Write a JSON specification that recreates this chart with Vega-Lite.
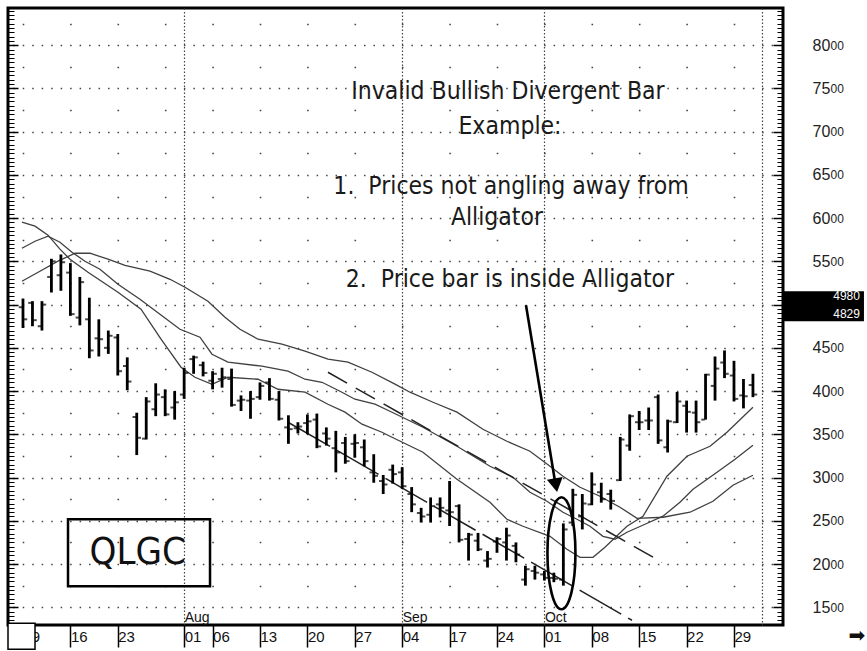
{
  "$schema": "https://vega.github.io/schema/vega-lite/v6.json",
  "width": 775,
  "height": 617,
  "autosize": "none",
  "padding": {"left": 8, "top": 8, "right": 84, "bottom": 26},
  "background": "white",
  "config": {"view": {"stroke": "black", "strokeWidth": 3}, "font": "Liberation Sans"},
  "resolve": {"axis": {"x": "independent", "y": "independent"}},
  "datasets": {
    "bars": [
      {"t":0,"o":49.7,"h":50.7,"l":47.3,"c":48.3},
      {"t":1,"o":50.2,"h":50.4,"l":47.5,"c":48.2},
      {"t":2,"o":47.5,"h":50.4,"l":47.0,"c":50.0},
      {"t":3,"o":53.2,"h":55.3,"l":51.4,"c":55.0},
      {"t":4,"o":53.4,"h":55.8,"l":51.6,"c":54.9},
      {"t":5,"o":53.7,"h":54.8,"l":48.7,"c":48.9},
      {"t":6,"o":48.5,"h":53.2,"l":47.6,"c":52.6},
      {"t":7,"o":48.3,"h":50.8,"l":43.8,"c":44.7},
      {"t":8,"o":46.1,"h":48.3,"l":44.0,"c":46.0},
      {"t":9,"o":45.0,"h":47.0,"l":44.3,"c":46.4},
      {"t":10,"o":46.2,"h":46.6,"l":41.8,"c":42.3},
      {"t":11,"o":42.9,"h":43.9,"l":40.1,"c":41.1},
      {"t":12,"o":37.0,"h":37.5,"l":32.6,"c":34.6},
      {"t":13,"o":34.5,"h":39.3,"l":34.4,"c":38.8},
      {"t":14,"o":37.9,"h":40.9,"l":37.1,"c":39.6},
      {"t":15,"o":39.3,"h":40.2,"l":37.1,"c":37.3},
      {"t":16,"o":38.1,"h":40.0,"l":36.7,"c":38.7},
      {"t":17,"o":39.6,"h":42.7,"l":39.1,"c":42.1},
      {"t":18,"o":43.7,"h":44.1,"l":42.0,"c":43.9},
      {"t":19,"o":43.0,"h":43.4,"l":41.7,"c":42.1},
      {"t":20,"o":41.2,"h":42.3,"l":40.2,"c":42.0},
      {"t":21,"o":41.4,"h":42.7,"l":40.4,"c":41.6},
      {"t":22,"o":41.4,"h":42.6,"l":38.2,"c":38.4},
      {"t":23,"o":38.9,"h":39.5,"l":37.7,"c":39.0},
      {"t":24,"o":38.9,"h":40.0,"l":36.8,"c":39.1},
      {"t":25,"o":39.3,"h":41.0,"l":39.0,"c":40.6},
      {"t":26,"o":41.0,"h":41.5,"l":38.9,"c":39.1},
      {"t":27,"o":39.0,"h":40.0,"l":36.6,"c":36.8},
      {"t":28,"o":35.8,"h":37.2,"l":33.9,"c":35.6},
      {"t":29,"o":35.7,"h":36.4,"l":35.1,"c":35.9},
      {"t":30,"o":36.3,"h":37.3,"l":35.0,"c":36.5},
      {"t":31,"o":36.7,"h":37.4,"l":33.4,"c":33.6},
      {"t":32,"o":35.1,"h":35.8,"l":33.7,"c":34.5},
      {"t":33,"o":33.4,"h":35.4,"l":30.6,"c":32.9},
      {"t":34,"o":34.0,"h":34.7,"l":31.6,"c":31.9},
      {"t":35,"o":33.9,"h":35.0,"l":32.3,"c":34.0},
      {"t":36,"o":33.5,"h":34.4,"l":31.3,"c":31.9},
      {"t":37,"o":30.6,"h":32.7,"l":29.4,"c":30.2},
      {"t":38,"o":29.6,"h":30.3,"l":28.1,"c":29.2},
      {"t":39,"o":30.9,"h":31.5,"l":29.3,"c":30.4},
      {"t":40,"o":30.6,"h":31.2,"l":28.7,"c":29.0},
      {"t":41,"o":28.1,"h":28.9,"l":26.0,"c":26.9},
      {"t":42,"o":25.9,"h":26.5,"l":24.8,"c":25.5},
      {"t":43,"o":25.7,"h":27.7,"l":24.8,"c":26.7},
      {"t":44,"o":26.9,"h":27.7,"l":25.4,"c":26.5},
      {"t":45,"o":26.2,"h":29.6,"l":24.4,"c":26.0},
      {"t":46,"o":26.7,"h":26.9,"l":22.5,"c":22.8},
      {"t":47,"o":22.9,"h":23.6,"l":20.4,"c":23.4},
      {"t":48,"o":22.7,"h":23.6,"l":21.5,"c":21.7},
      {"t":49,"o":20.4,"h":21.5,"l":19.6,"c":20.6},
      {"t":50,"o":22.6,"h":23.1,"l":21.3,"c":22.9},
      {"t":51,"o":22.5,"h":24.2,"l":20.4,"c":23.3},
      {"t":52,"o":22.1,"h":22.5,"l":20.2,"c":21.1},
      {"t":53,"o":18.2,"h":19.8,"l":17.5,"c":19.4},
      {"t":54,"o":19.2,"h":19.8,"l":18.2,"c":19.0},
      {"t":55,"o":18.8,"h":19.2,"l":18.1,"c":18.4},
      {"t":56,"o":18.4,"h":19.0,"l":17.9,"c":18.3},
      {"t":57,"o":18.2,"h":24.7,"l":17.5,"c":24.0},
      {"t":58,"o":24.8,"h":28.7,"l":24.4,"c":28.0},
      {"t":59,"o":25.5,"h":28.1,"l":24.0,"c":27.0},
      {"t":60,"o":26.9,"h":30.6,"l":26.8,"c":29.2},
      {"t":61,"o":28.3,"h":29.4,"l":27.1,"c":27.5},
      {"t":62,"o":28.1,"h":28.6,"l":26.3,"c":27.3},
      {"t":63,"o":29.7,"h":34.7,"l":29.6,"c":34.4},
      {"t":64,"o":33.7,"h":37.3,"l":33.1,"c":37.1},
      {"t":65,"o":36.4,"h":37.7,"l":35.5,"c":36.4},
      {"t":66,"o":36.6,"h":38.1,"l":35.5,"c":36.6},
      {"t":67,"o":39.3,"h":39.6,"l":33.9,"c":34.3},
      {"t":68,"o":33.5,"h":36.7,"l":32.9,"c":36.5},
      {"t":69,"o":36.4,"h":39.9,"l":36.3,"c":38.8},
      {"t":70,"o":38.3,"h":38.9,"l":35.2,"c":37.6},
      {"t":71,"o":37.5,"h":38.9,"l":35.2,"c":36.4},
      {"t":72,"o":36.7,"h":42.0,"l":36.7,"c":41.9},
      {"t":73,"o":40.6,"h":44.0,"l":38.9,"c":42.6},
      {"t":74,"o":43.3,"h":44.7,"l":41.5,"c":42.0},
      {"t":75,"o":41.8,"h":43.5,"l":38.8,"c":39.1},
      {"t":76,"o":39.5,"h":41.4,"l":38.0,"c":39.4},
      {"t":77,"o":40.7,"h":42.0,"l":39.3,"c":39.6}
    ],
    "gator": [
      {"line":"jaw","t":-0.11,"p":52.70},{"line":"jaw","t":1.79,"p":53.86},{"line":"jaw","t":3.69,"p":55.02},{"line":"jaw","t":5.49,"p":55.94},{"line":"jaw","t":7.07,"p":55.94},{"line":"jaw","t":8.97,"p":55.25},{"line":"jaw","t":10.76,"p":54.55},{"line":"jaw","t":13.40,"p":53.86},{"line":"jaw","t":15.51,"p":52.93},{"line":"jaw","t":17.09,"p":52.01},{"line":"jaw","t":19.51,"p":50.39},{"line":"jaw","t":21.31,"p":48.54},{"line":"jaw","t":22.89,"p":47.15},{"line":"jaw","t":24.79,"p":46.00},{"line":"jaw","t":27.32,"p":45.42},{"line":"jaw","t":29.75,"p":44.61},{"line":"jaw","t":32.17,"p":43.69},{"line":"jaw","t":34.28,"p":43.34},{"line":"jaw","t":36.81,"p":42.18},{"line":"jaw","t":39.24,"p":40.80},{"line":"jaw","t":40.82,"p":39.87},{"line":"jaw","t":43.25,"p":38.71},{"line":"jaw","t":45.78,"p":37.56},{"line":"jaw","t":48.52,"p":35.59},{"line":"jaw","t":51.05,"p":34.20},{"line":"jaw","t":53.48,"p":33.04},{"line":"jaw","t":55.59,"p":31.31},{"line":"jaw","t":56.96,"p":30.15},{"line":"jaw","t":58.76,"p":28.88},{"line":"jaw","t":60.86,"p":27.84},{"line":"jaw","t":62.97,"p":26.57},{"line":"jaw","t":64.77,"p":25.29},{"line":"jaw","t":67.51,"p":25.41},{"line":"jaw","t":70.36,"p":25.99},{"line":"jaw","t":72.78,"p":27.26},{"line":"jaw","t":74.89,"p":29.11},{"line":"jaw","t":77.00,"p":30.27},
      {"line":"teeth","t":-0.11,"p":56.52},{"line":"teeth","t":1.27,"p":57.33},{"line":"teeth","t":2.64,"p":57.91},{"line":"teeth","t":3.90,"p":57.22},{"line":"teeth","t":5.17,"p":56.06},{"line":"teeth","t":6.54,"p":55.02},{"line":"teeth","t":8.12,"p":54.09},{"line":"teeth","t":10.02,"p":52.36},{"line":"teeth","t":12.34,"p":50.62},{"line":"teeth","t":14.45,"p":48.89},{"line":"teeth","t":16.56,"p":47.15},{"line":"teeth","t":18.67,"p":46.23},{"line":"teeth","t":19.94,"p":44.26},{"line":"teeth","t":21.62,"p":43.34},{"line":"teeth","t":25.21,"p":42.88},{"line":"teeth","t":27.95,"p":42.30},{"line":"teeth","t":29.75,"p":41.37},{"line":"teeth","t":31.54,"p":41.02},{"line":"teeth","t":33.44,"p":39.98},{"line":"teeth","t":35.02,"p":39.06},{"line":"teeth","t":37.13,"p":38.48},{"line":"teeth","t":38.71,"p":37.67},{"line":"teeth","t":42.19,"p":35.82},{"line":"teeth","t":45.78,"p":33.62},{"line":"teeth","t":49.26,"p":31.31},{"line":"teeth","t":51.69,"p":30.04},{"line":"teeth","t":53.48,"p":28.30},{"line":"teeth","t":55.27,"p":27.26},{"line":"teeth","t":56.96,"p":25.99},{"line":"teeth","t":58.44,"p":25.18},{"line":"teeth","t":59.81,"p":24.37},{"line":"teeth","t":61.18,"p":23.21},{"line":"teeth","t":62.45,"p":22.87},{"line":"teeth","t":63.71,"p":23.68},{"line":"teeth","t":65.61,"p":24.60},{"line":"teeth","t":67.51,"p":25.53},{"line":"teeth","t":69.30,"p":27.14},{"line":"teeth","t":70.68,"p":28.65},{"line":"teeth","t":73.21,"p":30.61},{"line":"teeth","t":75.11,"p":32.12},{"line":"teeth","t":77.00,"p":33.74},
      {"line":"lips","t":-0.11,"p":59.53},{"line":"lips","t":1.27,"p":59.07},{"line":"lips","t":2.64,"p":58.03},{"line":"lips","t":3.90,"p":56.41},{"line":"lips","t":4.96,"p":55.25},{"line":"lips","t":6.86,"p":53.75},{"line":"lips","t":10.02,"p":51.43},{"line":"lips","t":12.45,"p":49.47},{"line":"lips","t":14.56,"p":46.00},{"line":"lips","t":16.67,"p":42.76},{"line":"lips","t":18.14,"p":41.60},{"line":"lips","t":19.94,"p":40.79},{"line":"lips","t":21.62,"p":41.60},{"line":"lips","t":24.79,"p":41.37},{"line":"lips","t":26.90,"p":40.21},{"line":"lips","t":29.75,"p":39.87},{"line":"lips","t":32.17,"p":38.48},{"line":"lips","t":33.97,"p":37.56},{"line":"lips","t":35.76,"p":36.17},{"line":"lips","t":37.87,"p":35.24},{"line":"lips","t":38.71,"p":34.78},{"line":"lips","t":42.19,"p":32.93},{"line":"lips","t":45.78,"p":29.81},{"line":"lips","t":49.26,"p":27.14},{"line":"lips","t":51.05,"p":25.18},{"line":"lips","t":52.74,"p":24.37},{"line":"lips","t":55.59,"p":23.21},{"line":"lips","t":57.38,"p":21.71},{"line":"lips","t":58.76,"p":20.78},{"line":"lips","t":60.13,"p":20.78},{"line":"lips","t":61.39,"p":21.94},{"line":"lips","t":63.71,"p":24.37},{"line":"lips","t":65.40,"p":25.53},{"line":"lips","t":67.93,"p":30.15},{"line":"lips","t":70.04,"p":32.47},{"line":"lips","t":72.47,"p":33.62},{"line":"lips","t":74.26,"p":35.24},{"line":"lips","t":77.00,"p":38.13}
    ],
    "trend": [
      {"name":"low","t":28.0,"p":36.37},{"name":"low","t":64.24,"p":13.5},
      {"name":"up","t":32.17,"p":42.18},{"name":"up","t":67.4,"p":20.2}
    ],
    "notes": [
      {"t":51.16,"p":74.57,"text":"Invalid Bullish Divergent Bar"},
      {"t":51.37,"p":70.52,"text":"Example:"},
      {"t":51.48,"p":63.58,"text":"1.\u00a0\u00a0Prices not angling away from"},
      {"t":50.0,"p":59.99,"text":"Alligator"},
      {"t":51.37,"p":52.82,"text":"2.\u00a0\u00a0Price bar is inside Alligator"}
    ],
    "qlgc": [{"t":4.75,"t2":19.73,"p":25.18,"p2":17.43,"tc":12.1,"pc":21.3,"label":"QLGC"}],
    "oval": [{"t":56.8,"p":21.25}],
    "arrow": [{"t":53.06,"p":49.93,"t2":56.12,"p2":29.57,"th":56.22,"ph":29.11}],
    "pricebox": [{"t":80.17,"t2":88.71,"p":51.55,"p2":48.08}],
    "pricetext": [{"t":88.29,"p":50.95,"label":"4980"},{"t":88.29,"p":48.95,"label":"4829"}],
    "corner": [{"t":-1.58,"t2":1.27,"p":13.15,"p2":10.14}],
    "nav": [{"t":87.97,"p":11.65,"label":"➡"}]
  },
  "layer": [
    {
      "data": {"name": "gator"},
      "mark": {"type": "line", "color": "#404040", "strokeWidth": 1.3},
      "encoding": {
        "x": {"field": "t", "type": "quantitative", "scale": {"domain": [-1.58, 80.17], "nice": false, "zero": false}, "axis": null},
        "y": {"field": "p", "type": "quantitative", "scale": {"domain": [12.95, 84.3], "nice": false, "zero": false},
          "axis": {"orient": "right", "values": [15,20,25,30,35,40,45,55,60,65,70,75,80], "labelExpr": "'00'", "ticks": false, "tickSize": 0, "domain": false, "grid": false, "title": null, "labelPadding": 47, "labelAlign": "left", "labelBaseline": "middle", "labelDy": 0, "labelFont": "Liberation Sans", "labelFontSize": 12, "labelColor": "#222", "labelOverlap": false, "labelFlush": false}},
        "detail": {"field": "line"}
      }
    },
    {
      "data": {"name": "trend"},
      "mark": {"type": "line", "color": "#222", "strokeWidth": 1.5},
      "encoding": {
        "x": {"field": "t", "type": "quantitative", "scale": {"domain": [-1.58, 80.17], "nice": false, "zero": false}, "axis": null},
        "y": {"field": "p", "type": "quantitative", "scale": {"domain": [12.95, 84.3], "nice": false, "zero": false},
          "axis": {"orient": "right", "tickCount": 143, "labels": false, "domain": false, "grid": false, "title": null, "ticks": true, "tickColor": "black", "tickWidth": 1, "tickSize": -6}},
        "detail": {"field": "name"},
        "strokeDash": {"field": "name", "type": "nominal", "scale": {"domain": ["low", "up"], "range": [[48, 8], [22, 10]]}, "legend": null}
      }
    },
    {
      "data": {"name": "bars"},
      "mark": {"type": "rule", "color": "black", "strokeWidth": 2.8},
      "encoding": {
        "x": {"field": "t", "type": "quantitative", "scale": {"domain": [-1.58, 80.17], "nice": false, "zero": false},
          "axis": {"orient": "bottom", "values": [0,5,10,17,20,25,30,35,40,45,50,55,60,65,70,75], "labelExpr": "['09','16','23','01','06','13','20','27','04','17','24','01','08','15','22','29'][indexof([0,5,10,17,20,25,30,35,40,45,50,55,60,65,70,75], datum.value)]", "title": null, "grid": false, "domain": false, "ticks": true, "tickSize": 22, "tickColor": "black", "tickWidth": 1.5, "labelAlign": "left", "labelBaseline": "top", "labelPadding": -18, "labelDx": 3, "labelFont": "Liberation Sans", "labelFontSize": 15, "labelColor": "#111", "labelFlush": false, "labelOverlap": false, "labelBound": false}},
        "y": {"field": "l", "type": "quantitative", "scale": {"domain": [12.95, 84.3], "nice": false, "zero": false},
          "axis": {"orient": "left", "values": [15,20,25,30,35,40,45,50,55,60,65,70,75,80], "labels": false, "ticks": false, "domain": false, "title": null, "grid": true, "gridColor": "#444", "gridWidth": 1.5, "gridDash": [1.5, 7.98], "gridDashOffset": 4.73}},
        "y2": {"field": "h"}
      }
    },
    {
      "data": {"name": "bars"},
      "mark": {"type": "tick", "orient": "horizontal", "color": "black", "size": 3.5, "thickness": 2, "xOffset": -2.5},
      "encoding": {
        "x": {"field": "t", "type": "quantitative", "scale": {"domain": [-1.58, 80.17], "nice": false, "zero": false},
          "axis": {"orient": "bottom", "values": [17,40,55,78], "labelExpr": "datum.value == 17 ? 'Aug' : datum.value == 40 ? 'Sep' : datum.value == 55 ? 'Oct' : ''", "title": null, "ticks": false, "domain": false, "labelAlign": "left", "labelBaseline": "bottom", "labelPadding": -1, "labelDx": 2, "labelFont": "Liberation Sans", "labelFontSize": 14, "labelColor": "#111", "grid": true, "gridColor": "#444", "gridWidth": 1.2, "gridDash": [1.5, 2], "labelFlush": false, "labelOverlap": false, "labelBound": false}},
        "y": {"field": "o", "type": "quantitative", "scale": {"domain": [12.95, 84.3], "nice": false, "zero": false},
          "axis": {"orient": "left", "values": [17.5,22.5,27.5,32.5,37.5,42.5,47.5,52.5,57.5,62.5,67.5,72.5,77.5,82.5], "labels": false, "ticks": false, "domain": false, "title": null, "grid": true, "gridColor": "#444", "gridWidth": 1.6, "gridDash": [1.6, 45.8], "gridDashOffset": 33.2}}
      }
    },
    {
      "data": {"name": "bars"},
      "mark": {"type": "tick", "orient": "horizontal", "color": "black", "size": 3.5, "thickness": 2, "xOffset": 2.5},
      "encoding": {
        "x": {"field": "t", "type": "quantitative", "scale": {"domain": [-1.58, 80.17], "nice": false, "zero": false}, "axis": null},
        "y": {"field": "c", "type": "quantitative", "scale": {"domain": [12.95, 84.3], "nice": false, "zero": false},
          "axis": {"orient": "right", "values": [15,20,25,30,35,40,45,55,60,65,70,75,80], "labelExpr": "format(datum.value, 'd')", "ticks": false, "tickSize": 0, "domain": false, "grid": false, "title": null, "labelPadding": 29, "labelAlign": "left", "labelBaseline": "middle", "labelDy": 3, "labelFont": "Liberation Sans", "labelFontSize": 16, "labelColor": "#222", "labelOverlap": false, "labelFlush": false}}
      }
    },
    {
      "data": {"name": "notes"},
      "mark": {"type": "text", "font": "DejaVu Sans Condensed", "fontSize": 24.5, "color": "#1a1a1a", "align": "center", "baseline": "middle"},
      "encoding": {
        "x": {"field": "t", "type": "quantitative", "scale": {"domain": [-1.58, 80.17], "nice": false, "zero": false}, "axis": null},
        "y": {"field": "p", "type": "quantitative", "scale": {"domain": [12.95, 84.3], "nice": false, "zero": false},
          "axis": {"orient": "left", "tickCount": 143, "labels": false, "domain": false, "grid": false, "title": null, "ticks": true, "tickColor": "black", "tickWidth": 1, "tickSize": -6}},
        "text": {"field": "text"}
      }
    },
    {
      "data": {"name": "qlgc"},
      "mark": {"type": "rect", "fill": null, "fillOpacity": 0, "stroke": "black", "strokeWidth": 2.5},
      "encoding": {
        "x": {"field": "t", "type": "quantitative", "scale": {"domain": [-1.58, 80.17], "nice": false, "zero": false}, "axis": null},
        "x2": {"field": "t2"},
        "y": {"field": "p", "type": "quantitative", "scale": {"domain": [12.95, 84.3], "nice": false, "zero": false},
          "axis": {"orient": "left", "values": [15,20,25,30,35,40,45,50,55,60,65,70,75,80], "labels": false, "domain": false, "grid": false, "title": null, "ticks": true, "tickColor": "black", "tickWidth": 1.5, "tickSize": -10}},
        "y2": {"field": "p2"}
      }
    },
    {
      "data": {"name": "qlgc"},
      "mark": {"type": "text", "font": "DejaVu Sans Condensed", "fontSize": 38, "color": "#111", "align": "center", "baseline": "middle"},
      "encoding": {
        "x": {"field": "tc", "type": "quantitative", "scale": {"domain": [-1.58, 80.17], "nice": false, "zero": false}, "axis": null},
        "y": {"field": "pc", "type": "quantitative", "scale": {"domain": [12.95, 84.3], "nice": false, "zero": false},
          "axis": {"orient": "right", "values": [15,20,25,30,35,40,45,50,55,60,65,70,75,80], "labels": false, "domain": false, "grid": false, "title": null, "ticks": true, "tickColor": "black", "tickWidth": 1.5, "tickSize": -10}},
        "text": {"field": "label"}
      }
    },
    {
      "data": {"name": "oval"},
      "mark": {"type": "point", "shape": "M0,-1A0.25,1,0,1,1,0,1A0.25,1,0,1,1,0,-1Z", "filled": false, "stroke": "black", "strokeWidth": 2.6, "size": 12544, "opacity": 1},
      "encoding": {
        "x": {"field": "t", "type": "quantitative", "scale": {"domain": [-1.58, 80.17], "nice": false, "zero": false}, "axis": null},
        "y": {"field": "p", "type": "quantitative", "scale": {"domain": [12.95, 84.3], "nice": false, "zero": false}, "axis": null}
      }
    },
    {
      "data": {"name": "arrow"},
      "mark": {"type": "rule", "color": "black", "strokeWidth": 2.6},
      "encoding": {
        "x": {"field": "t", "type": "quantitative", "scale": {"domain": [-1.58, 80.17], "nice": false, "zero": false}, "axis": null},
        "x2": {"field": "t2"},
        "y": {"field": "p", "type": "quantitative", "scale": {"domain": [12.95, 84.3], "nice": false, "zero": false}, "axis": null},
        "y2": {"field": "p2"}
      }
    },
    {
      "data": {"name": "arrow"},
      "mark": {"type": "point", "shape": "triangle-down", "filled": true, "color": "black", "size": 256, "angle": -9.4, "opacity": 1},
      "encoding": {
        "x": {"field": "th", "type": "quantitative", "scale": {"domain": [-1.58, 80.17], "nice": false, "zero": false}, "axis": null},
        "y": {"field": "ph", "type": "quantitative", "scale": {"domain": [12.95, 84.3], "nice": false, "zero": false}, "axis": null}
      }
    },
    {
      "data": {"name": "pricebox"},
      "mark": {"type": "rect", "fill": "black"},
      "encoding": {
        "x": {"field": "t", "type": "quantitative", "scale": {"domain": [-1.58, 80.17], "nice": false, "zero": false}, "axis": null},
        "x2": {"field": "t2"},
        "y": {"field": "p", "type": "quantitative", "scale": {"domain": [12.95, 84.3], "nice": false, "zero": false}, "axis": null},
        "y2": {"field": "p2"}
      }
    },
    {
      "data": {"name": "pricetext"},
      "mark": {"type": "text", "font": "Liberation Sans", "fontSize": 12, "color": "white", "align": "right", "baseline": "middle"},
      "encoding": {
        "x": {"field": "t", "type": "quantitative", "scale": {"domain": [-1.58, 80.17], "nice": false, "zero": false}, "axis": null},
        "y": {"field": "p", "type": "quantitative", "scale": {"domain": [12.95, 84.3], "nice": false, "zero": false}, "axis": null},
        "text": {"field": "label"}
      }
    },
    {
      "data": {"name": "corner"},
      "mark": {"type": "rect", "fill": "white", "stroke": "black", "strokeWidth": 1.5},
      "encoding": {
        "x": {"field": "t", "type": "quantitative", "scale": {"domain": [-1.58, 80.17], "nice": false, "zero": false}, "axis": null},
        "x2": {"field": "t2"},
        "y": {"field": "p", "type": "quantitative", "scale": {"domain": [12.95, 84.3], "nice": false, "zero": false}, "axis": null},
        "y2": {"field": "p2"}
      }
    },
    {
      "data": {"name": "nav"},
      "mark": {"type": "text", "font": "DejaVu Sans", "fontSize": 20, "color": "#111", "align": "center", "baseline": "middle"},
      "encoding": {
        "x": {"field": "t", "type": "quantitative", "scale": {"domain": [-1.58, 80.17], "nice": false, "zero": false}, "axis": null},
        "y": {"field": "p", "type": "quantitative", "scale": {"domain": [12.95, 84.3], "nice": false, "zero": false}, "axis": null},
        "text": {"field": "label"}
      }
    }
  ]
}
